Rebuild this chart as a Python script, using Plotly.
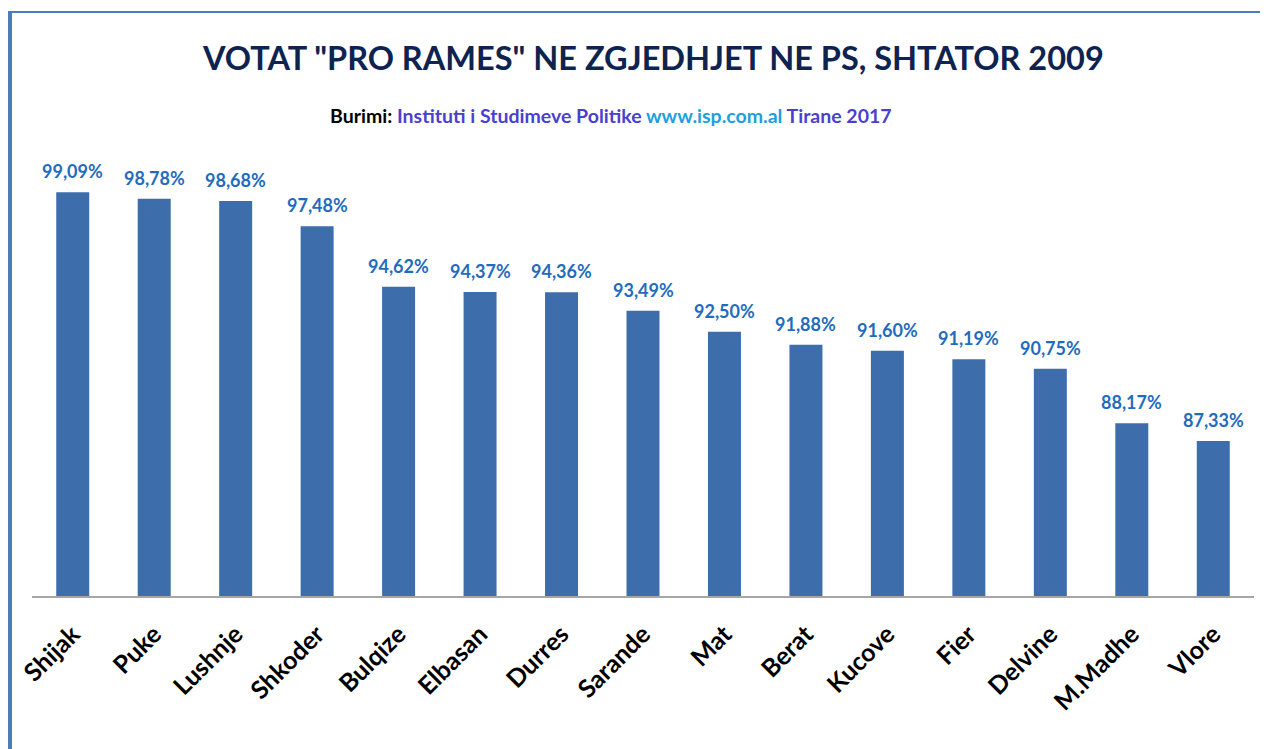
import plotly.graph_objects as go

categories = ["Shijak", "Puke", "Lushnje", "Shkoder", "Bulqize", "Elbasan", "Durres",
              "Sarande", "Mat", "Berat", "Kucove", "Fier", "Delvine", "M.Madhe", "Vlore"]
values = [99.09, 98.78, 98.68, 97.48, 94.62, 94.37, 94.36, 93.49, 92.50, 91.88,
          91.60, 91.19, 90.75, 88.17, 87.33]
labels = [f"{v:.2f}".replace(".", ",") + "%" for v in values]

OFF = 8  # default page margin
W, H = 1268 - OFF, 749 - OFF
L, R = 32 - OFF, 14
T, B = 173 - OFF, 749 - 596
pw, ph = W - L - R, H - T - B

def px_x(p):
    return (p - OFF - L) / pw

def px_y(p):
    return (H - B - (p - OFF)) / ph

fig = go.Figure(go.Bar(
    x=categories, y=values,
    marker=dict(color="#3D6EAB", line=dict(width=0)),
    cliponaxis=False,
))

annotations = [
    dict(x=c, y=v, text=f"<b>{t}</b>", xref="x", yref="y", showarrow=False,
         xanchor="center", yanchor="bottom", yshift=8,
         font=dict(family="Lato", size=18, color="#1F6CBE"))
    for c, v, t in zip(categories, values, labels)
]

annotations += [
    dict(text="<b>VOTAT \"PRO RAMES\" NE ZGJEDHJET NE PS, SHTATOR 2009</b>",
         x=px_x(653), y=px_y(58), xref="paper", yref="paper",
         xanchor="center", yanchor="middle", showarrow=False,
         font=dict(family="Lato", size=32.5, color="#0E2350")),
    dict(text="<b>Burimi: <span style='color:#4B3FD0'>Instituti i Studimeve Politike</span> "
              "<span style='color:#1E9FE0'>www.isp.com.al</span> "
              "<span style='color:#4B3FD0'>Tirane 2017</span></b>",
         x=px_x(611), y=px_y(116), xref="paper", yref="paper",
         xanchor="center", yanchor="middle", showarrow=False,
         font=dict(family="Lato", size=19.5, color="black")),
]

fig.update_layout(
    width=W, height=H,
    margin=dict(l=L, r=R, t=T, b=B, autoexpand=False),
    paper_bgcolor="white", plot_bgcolor="white",
    bargap=0.595,
    showlegend=False,
    xaxis=dict(showline=True, linecolor="#A6A6A6", linewidth=1.5, ticks="",
               tickangle=-45, showgrid=False, automargin=False,
               ticklabelstandoff=12,
               tickfont=dict(family="Lato", size=25, color="black", weight="bold")),
    yaxis=dict(range=[80, 100], visible=False, showgrid=False, automargin=False),
    annotations=annotations,
    shapes=[
        dict(type="line", xref="paper", yref="paper",
             x0=px_x(8), x1=px_x(1268), y0=px_y(12), y1=px_y(12),
             line=dict(color="#4A7EBB", width=2)),
        dict(type="line", xref="paper", yref="paper",
             x0=px_x(10), x1=px_x(10), y0=px_y(11), y1=px_y(749),
             line=dict(color="#4A7EBB", width=4)),
    ],
)

fig.write_html("out.html")
